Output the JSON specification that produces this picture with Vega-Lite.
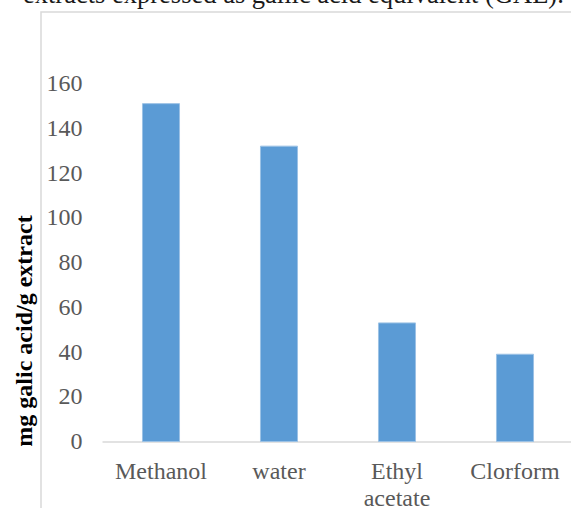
{
  "$schema": "https://vega.github.io/schema/vega-lite/v6.json",
  "autosize": "none",
  "width": 533,
  "height": 500,
  "padding": {"left": 41, "top": 12, "right": -3, "bottom": -4},
  "background": "white",
  "title": {
    "text": "extracts expressed as gallic acid equivalent (GAE).",
    "anchor": "start",
    "frame": "group",
    "orient": "top",
    "offset": 0,
    "baseline": "alphabetic",
    "dx": -18,
    "dy": 17,
    "font": "Liberation Serif",
    "fontSize": 26.5,
    "fontWeight": "normal",
    "color": "#1a1a1a"
  },
  "data": {
    "values": [
      {"solvent": "Methanol", "gae": 151},
      {"solvent": "water", "gae": 132},
      {"solvent": "Ethyl acetate", "gae": 53},
      {"solvent": "Clorform", "gae": 39}
    ]
  },
  "mark": {"type": "bar", "color": "#5b9bd5", "stroke": "#9cc2e5", "strokeWidth": 1},
  "encoding": {
    "x": {
      "field": "solvent",
      "type": "nominal",
      "sort": null,
      "scale": {"range": [61, 533], "paddingInner": 0.686, "paddingOuter": 0.343},
      "axis": {
        "title": null,
        "orient": "bottom",
        "offset": -70.5,
        "domainColor": "#d9d9d9",
        "domainWidth": 1.5,
        "ticks": false,
        "labelAngle": 0,
        "labelPadding": 18,
        "labelFont": "Liberation Serif",
        "labelFontSize": 24,
        "labelColor": "#595959",
        "labelLineHeight": 27,
        "labelExpr": "datum.value == 'Ethyl acetate' ? ['Ethyl', 'acetate'] : datum.value"
      }
    },
    "y": {
      "field": "gae",
      "type": "quantitative",
      "scale": {"domain": [0, 160], "range": [429.5, 71.5], "nice": false, "zero": true},
      "axis": {
        "title": "mg galic acid/g extract",
        "orient": "left",
        "offset": -61,
        "values": [0, 20, 40, 60, 80, 100, 120, 140, 160],
        "domain": false,
        "ticks": false,
        "grid": false,
        "labelPadding": 20,
        "labelFont": "Liberation Serif",
        "labelFontSize": 24,
        "labelColor": "#595959",
        "titleFont": "Liberation Serif",
        "titleFontSize": 24,
        "titleFontWeight": "bold",
        "titleColor": "#000000",
        "titlePadding": 10,
        "titleY": 318.5
      }
    }
  },
  "config": {
    "view": {"stroke": "#d9d9d9", "strokeWidth": 1.5}
  }
}
